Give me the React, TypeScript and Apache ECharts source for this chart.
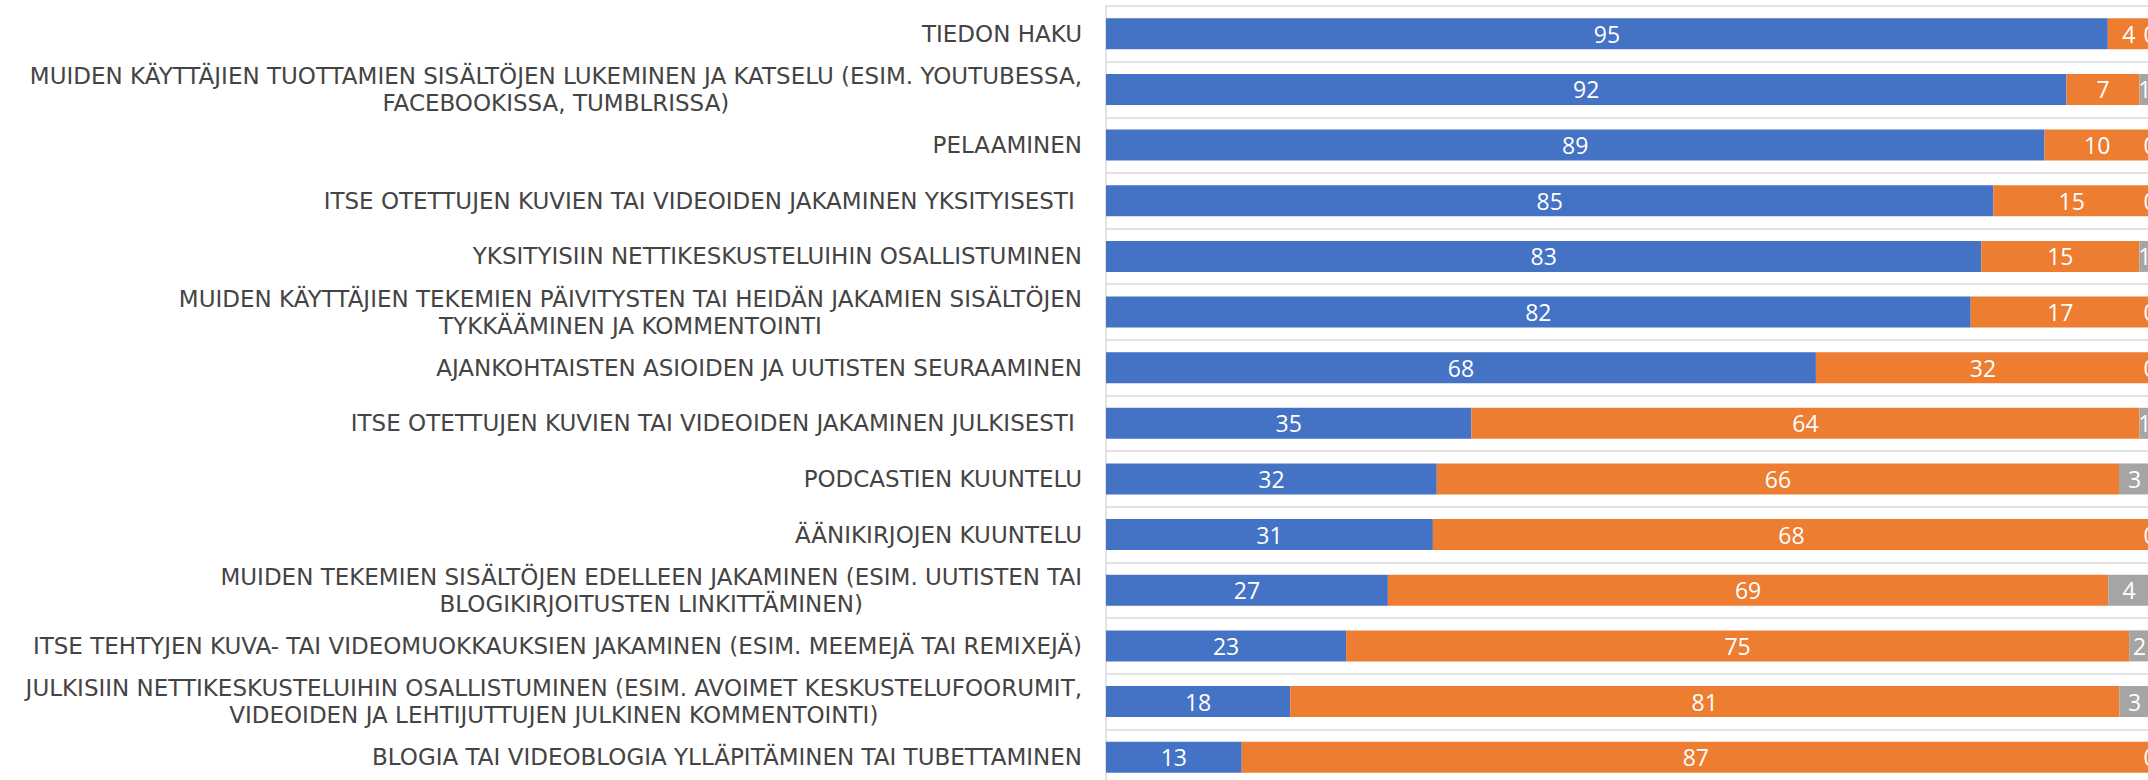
import React, { useEffect, useRef } from "react";
import * as echarts from "echarts";

const categories: string[] = [
  "TIEDON HAKU",
  "MUIDEN KÄYTTÄJIEN TUOTTAMIEN SISÄLTÖJEN LUKEMINEN JA KATSELU (ESIM. YOUTUBESSA,\nFACEBOOKISSA, TUMBLRISSA)",
  "PELAAMINEN",
  "ITSE OTETTUJEN KUVIEN TAI VIDEOIDEN JAKAMINEN YKSITYISESTI ",
  "YKSITYISIIN NETTIKESKUSTELUIHIN OSALLISTUMINEN",
  "MUIDEN KÄYTTÄJIEN TEKEMIEN PÄIVITYSTEN TAI HEIDÄN JAKAMIEN SISÄLTÖJEN\nTYKKÄÄMINEN JA KOMMENTOINTI",
  "AJANKOHTAISTEN ASIOIDEN JA UUTISTEN SEURAAMINEN",
  "ITSE OTETTUJEN KUVIEN TAI VIDEOIDEN JAKAMINEN JULKISESTI ",
  "PODCASTIEN KUUNTELU",
  "ÄÄNIKIRJOJEN KUUNTELU",
  "MUIDEN TEKEMIEN SISÄLTÖJEN EDELLEEN JAKAMINEN (ESIM. UUTISTEN TAI\nBLOGIKIRJOITUSTEN LINKITTÄMINEN)",
  "ITSE TEHTYJEN KUVA- TAI VIDEOMUOKKAUKSIEN JAKAMINEN (ESIM. MEEMEJÄ TAI REMIXEJÄ)",
  "JULKISIIN NETTIKESKUSTELUIHIN OSALLISTUMINEN (ESIM. AVOIMET KESKUSTELUFOORUMIT,\nVIDEOIDEN JA LEHTIJUTTUJEN JULKINEN KOMMENTOINTI)",
  "BLOGIA TAI VIDEOBLOGIA YLLÄPITÄMINEN TAI TUBETTAMINEN",
];

const blueValues: number[] = [95, 92, 89, 85, 83, 82, 68, 35, 32, 31, 27, 23, 18, 13];
const orangeValues: number[] = [4, 7, 10, 15, 15, 17, 32, 64, 66, 68, 69, 75, 81, 87];
const grayValues: number[] = [0, 1, 0, 0, 1, 0, 0, 1, 3, 0, 4, 2, 3, 0];

const seriesColors = ["#4472C4", "#ED7D31", "#A5A5A5"];

export default function App() {
  const ref = useRef<HTMLDivElement>(null);

  useEffect(() => {
    if (!ref.current) return;
    const chart = echarts.init(ref.current, undefined, { renderer: "svg" });

    const totals = categories.map(
      (_, i) => blueValues[i] + orangeValues[i] + grayValues[i]
    );
    const groups = [blueValues, orangeValues, grayValues];

    const labelFont = "DejaVu Sans";

    chart.setOption({
      animation: false,
      backgroundColor: "#ffffff",
      grid: { left: 1106, top: 6, width: 1044, height: 779, containLabel: false },
      xAxis: { type: "value", min: 0, max: 100, show: false },
      yAxis: {
        type: "category",
        inverse: true,
        data: categories,
        axisLine: { show: true, lineStyle: { color: "#d9d9d9", width: 1.5 } },
        axisTick: { show: false },
        splitLine: { show: true, lineStyle: { color: "#d9d9d9", width: 1.5 } },
        axisLabel: {
          interval: 0,
          margin: 24,
          align: "right",
          color: "#444444",
          fontFamily: labelFont,
          fontSize: 23,
          lineHeight: 27,
          formatter: (v: string) =>
            v
              .split("\n")
              .map((l) => "{c|" + l + "}")
              .join("\n"),
          rich: {
            c: {
              align: "center",
              color: "#444444",
              fontFamily: labelFont,
              fontSize: 23,
              lineHeight: 27,
            },
          },
        },
      },
      series: groups.map((vals, s) => ({
        type: "bar",
        stack: "total",
        barWidth: 31,
        itemStyle: { color: seriesColors[s] },
        label: {
          show: true,
          position: "inside",
          color: "#ffffff",
          fontFamily: "Open Sans",
          fontSize: 23,
          formatter: (p: any) => String(vals[p.dataIndex]),
        },
        data: vals.map((v, i) => (v / totals[i]) * 100),
      })),
    });

    return () => chart.dispose();
  }, []);

  return (
    <div
      style={{
        position: "fixed",
        left: 0,
        top: 0,
        width: 2148,
        height: 780,
        overflow: "hidden",
        background: "#fff",
      }}
    >
      <div ref={ref} style={{ width: 2200, height: 800 }} />
    </div>
  );
}
